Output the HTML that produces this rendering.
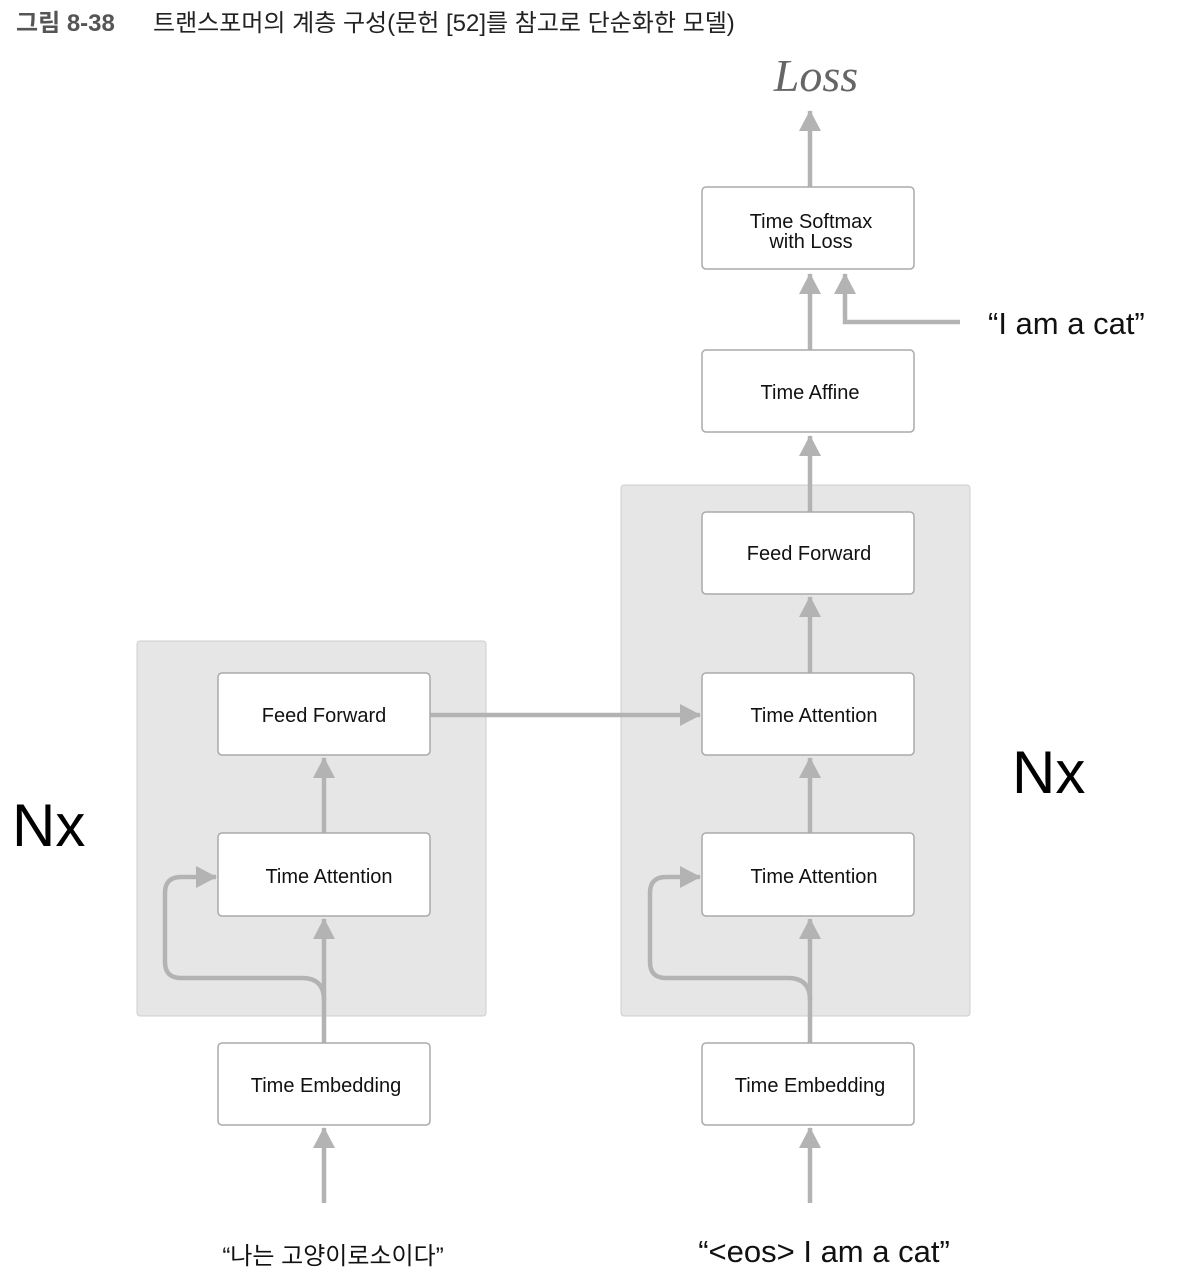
<!DOCTYPE html>
<html><head><meta charset="utf-8"><style>
body{margin:0;background:#fff;}
svg{display:block}
text{font-family:"Liberation Sans","Noto Sans CJK KR",sans-serif;}
</style></head><body>
<svg width="1188" height="1284" viewBox="0 0 1188 1284" xmlns="http://www.w3.org/2000/svg">
<defs>
<marker id="ah" markerUnits="userSpaceOnUse" markerWidth="22" markerHeight="22" refX="20" refY="11" orient="auto">
<path d="M0,0 L21,11 L0,22 Z" fill="#b3b3b3"/>
</marker>
</defs>
<text x="16" y="31" font-size="24" font-weight="bold" fill="#555">그림 8-38</text>
<text x="153" y="31" font-size="24" fill="#222">트랜스포머의 계층 구성(문헌 [52]를 참고로 단순화한 모델)</text>

<rect x="137" y="641" width="349" height="375" rx="3" fill="#e6e6e6" stroke="#cfcfcf"/>
<rect x="621" y="485" width="349" height="531" rx="3" fill="#e6e6e6" stroke="#cfcfcf"/>

<g fill="none" stroke="#b3b3b3" stroke-width="4.5">
<path d="M324,1203 V1128" marker-end="url(#ah)"/>
<path d="M810,1203 V1128" marker-end="url(#ah)"/>
<path d="M324,1043 V919" marker-end="url(#ah)"/>
<path d="M810,1043 V919" marker-end="url(#ah)"/>
<path d="M324,1000 Q324,978 302,978 H181 Q165,978 165,962 V893 Q165,877 181,877 H216" marker-end="url(#ah)"/>
<path d="M810,1000 Q810,978 788,978 H666 Q650,978 650,962 V893 Q650,877 666,877 H700" marker-end="url(#ah)"/>
<path d="M324,833 V758" marker-end="url(#ah)"/>
<path d="M810,833 V758" marker-end="url(#ah)"/>
<path d="M810,673 V597" marker-end="url(#ah)"/>
<path d="M810,512 V436" marker-end="url(#ah)"/>
<path d="M810,350 V274" marker-end="url(#ah)"/>
<path d="M960,322 H845 V274" marker-end="url(#ah)"/>
<path d="M810,187 V111" marker-end="url(#ah)"/>
<path d="M430,715 H700" marker-end="url(#ah)"/>
</g>

<g fill="#fff" stroke="#aaa" stroke-width="1.5">
<rect x="218" y="673" width="212" height="82" rx="4"/>
<rect x="218" y="833" width="212" height="83" rx="4"/>
<rect x="218" y="1043" width="212" height="82" rx="4"/>
<rect x="702" y="187" width="212" height="82" rx="4"/>
<rect x="702" y="350" width="212" height="82" rx="4"/>
<rect x="702" y="512" width="212" height="82" rx="4"/>
<rect x="702" y="673" width="212" height="82" rx="4"/>
<rect x="702" y="833" width="212" height="83" rx="4"/>
<rect x="702" y="1043" width="212" height="82" rx="4"/>
</g>

<g font-size="20" fill="#111" text-anchor="middle">
<text x="324" y="722">Feed Forward</text>
<text x="329" y="883">Time Attention</text>
<text x="326" y="1092">Time Embedding</text>
<text x="811" y="228">Time Softmax</text>
<text x="811" y="248">with Loss</text>
<text x="810" y="399">Time Affine</text>
<text x="809" y="560">Feed Forward</text>
<text x="814" y="722">Time Attention</text>
<text x="814" y="883">Time Attention</text>
<text x="810" y="1092">Time Embedding</text>
</g>
<text x="816" y="91" font-size="46" font-style="italic" fill="#666" text-anchor="middle" style="font-family:'Liberation Serif',serif">Loss</text>
<text x="988" y="334" font-size="31" fill="#111">“I am a cat”</text>
<text x="12" y="846" font-size="60" fill="#000">Nx</text>
<text x="1012" y="793" font-size="60" fill="#000">Nx</text>
<text x="333" y="1264" font-size="24" fill="#111" text-anchor="middle">“나는 고양이로소이다”</text>
<text x="824" y="1262" font-size="31" fill="#111" text-anchor="middle">“&lt;eos&gt; I am a cat”</text>
</svg>
</body></html>
